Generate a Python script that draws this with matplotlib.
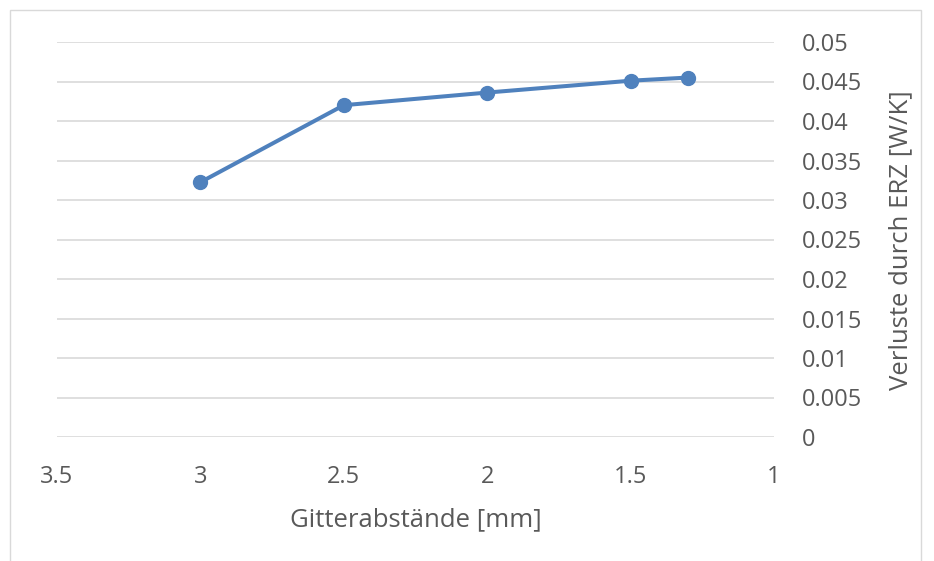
import matplotlib.pyplot as plt
from matplotlib.patches import Rectangle

# data
gitter_mm = [3.0, 2.5, 2.0, 1.5, 1.3]
verluste = [0.03225, 0.0420, 0.0436, 0.0451, 0.0455]
y_ticks = [0, 0.005, 0.01, 0.015, 0.02, 0.025, 0.03, 0.035, 0.04, 0.045, 0.05]
y_labels = ["0", "0.005", "0.01", "0.015", "0.02", "0.025", "0.03", "0.035", "0.04", "0.045", "0.05"]
x_ticks = [3.5, 3, 2.5, 2, 1.5, 1]
x_labels = ["3.5", "3", "2.5", "2", "1.5", "1"]

W, H = 934, 561
plt.rcParams["font.family"] = ["Open Sans", "DejaVu Sans"]
fig = plt.figure(figsize=(W / 100, H / 100), dpi=100)

# plot area in pixels: x 57..774, y 42..437
ax = fig.add_axes([57 / W, 1 - 437 / H, (774 - 57) / W, (437 - 42) / H])

ax.plot(gitter_mm, verluste, color="#4f81bd", linewidth=2.9,
        marker="o", markersize=10, zorder=3)

ax.set_xlim(3.5, 1)
ax.set_ylim(0, 0.05)
ax.set_xticks(x_ticks)
ax.set_xticklabels(x_labels)
ax.set_yticks(y_ticks)
ax.set_yticklabels(y_labels)
ax.yaxis.tick_right()

ax.grid(axis="y", color="#d9d9d9", linewidth=1.2)
ax.grid(axis="x", visible=False)
for s in ax.spines.values():
    s.set_visible(False)
ax.tick_params(axis="both", length=0, labelsize=17, labelcolor="#595959")
ax.tick_params(axis="y", pad=20)
ax.tick_params(axis="x", pad=20)

fig.text(416 / W, 1 - 520 / H, "Gitterabstände [mm]", ha="center", va="center",
         fontsize=18.5, color="#595959")
fig.text(901 / W, 1 - 240 / H, "Verluste durch ERZ [W/K]", ha="center", va="center",
         rotation=90, fontsize=18.5, color="#595959")

# light chart border
fig.patches.append(Rectangle((10 / W, -0.05), (921 - 10) / W, 1 - 10 / H + 0.05,
                             transform=fig.transFigure, fill=False,
                             edgecolor="#d9d9d9", linewidth=1))

fig.savefig("out.png", dpi=100)
